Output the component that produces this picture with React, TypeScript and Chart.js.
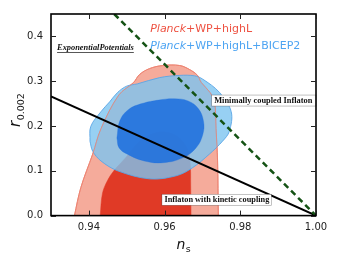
import React, { useEffect, useRef } from "react";
import { Chart, registerables } from "chart.js";

Chart.register(...registerables);

const W = 338;
const H = 259;

// Axes
const xRange = [0.93, 1.0];
const yRange = [0.0, 0.45];
const xTicks = [0.94, 0.96, 0.98, 1.0];
const yTicks = [0.0, 0.1, 0.2, 0.3, 0.4];

// Planck+WP+highL, 95% (outer) contour
const redOuterNs = [0.9358, 0.9362, 0.9379, 0.941, 0.9432, 0.9479, 0.9518, 0.9534, 0.956, 0.9595, 0.964, 0.9666, 0.9687, 0.9697, 0.972, 0.9732, 0.9736, 0.974, 0.9742, 0.9743];
const redOuterR = [-0.02, 0.0, 0.063, 0.137, 0.194, 0.269, 0.297, 0.315, 0.328, 0.335, 0.335, 0.326, 0.313, 0.297, 0.275, 0.253, 0.194, 0.122, 0.0, -0.02];

// Planck+WP+highL, 68% (inner) contour
const redInnerNs = [0.9428, 0.943, 0.9436, 0.9449, 0.9466, 0.9497, 0.9534, 0.9581, 0.9626, 0.9657, 0.9667, 0.9669, 0.967, 0.9671];
const redInnerR = [-0.02, 0.0, 0.05, 0.078, 0.1, 0.129, 0.166, 0.186, 0.181, 0.155, 0.122, 0.067, 0.0, -0.02];

// Planck+WP+highL+BICEP2, 95% contour
const blueOuterNs = [0.9403, 0.9405, 0.9432, 0.9455, 0.9476, 0.95, 0.9528, 0.9587, 0.964, 0.9679, 0.97, 0.9745, 0.9776, 0.9771, 0.9753, 0.9718, 0.9674, 0.9631, 0.9561, 0.9476, 0.9432, 0.941];
const blueOuterR = [0.166, 0.199, 0.232, 0.254, 0.275, 0.289, 0.294, 0.308, 0.313, 0.312, 0.305, 0.275, 0.232, 0.188, 0.166, 0.137, 0.107, 0.089, 0.082, 0.1, 0.122, 0.144];

// Planck+WP+highL+BICEP2, 68% contour
const blueInnerNs = [0.9474, 0.9482, 0.9505, 0.954, 0.9585, 0.9626, 0.9662, 0.9689, 0.9703, 0.9701, 0.9683, 0.9648, 0.9596, 0.9546, 0.9502, 0.948];
const blueInnerR = [0.173, 0.212, 0.237, 0.25, 0.258, 0.261, 0.256, 0.239, 0.21, 0.181, 0.151, 0.129, 0.118, 0.122, 0.137, 0.151];

// Model predictions
const kineticNs = [0.93, 1.0];
const kineticR = [0.266, 0.0];
const minimalNs = [0.9467, 1.0];
const minimalR = [0.45, 0.0];

// Text annotations (anchor in data coordinates)
const legendAnchor = { ns: 0.9562, r1: 0.4164, r2: 0.379 };
const titleAnchor = { ns: 0.9316, r: 0.374 };
const minimalAnchor = { ns: 0.97245, r: 0.2568 };
const kineticAnchor = { ns: 0.9593, r: 0.0353 };

const pts = (xs: number[], ys: number[]) => xs.map((x, i) => ({ x, y: ys[i] }));
const loop = (xs: number[], ys: number[]) => {
  const p = pts(xs, ys);
  return [...p, p[0]];
};

const shapeFillPlugin = {
  id: "shapeFill",
  beforeDatasetDraw(chart: any, args: any) {
    const ds = chart.data.datasets[args.index];
    if (!ds.shapeFill) return;
    const meta = args.meta;
    const line = meta.dataset;
    if (!line) return;
    const ctx = chart.ctx;
    const a = chart.chartArea;
    line.updateControlPoints(a, meta.indexAxis || "x");
    ctx.save();
    ctx.beginPath();
    ctx.rect(a.left, a.top, a.right - a.left, a.bottom - a.top);
    ctx.clip();
    ctx.beginPath();
    line.path(ctx);
    ctx.closePath();
    ctx.fillStyle = ds.shapeFill;
    ctx.fill();
    ctx.restore();
  },
};

const runs = (ctx: CanvasRenderingContext2D, parts: [string, string, string][], x: number, y: number) => {
  let cx = x;
  for (const [t, font, color] of parts) {
    ctx.font = font;
    ctx.fillStyle = color;
    ctx.fillText(t, cx, y);
    cx += ctx.measureText(t).width;
  }
  return cx - x;
};

const decorPlugin = {
  id: "decor",
  afterDraw(chart: any) {
    const ctx: CanvasRenderingContext2D = chart.ctx;
    const xs = chart.scales.x;
    const ys = chart.scales.y;
    const X = (v: number) => xs.getPixelForValue(v);
    const Y = (v: number) => ys.getPixelForValue(v);
    const a = chart.chartArea;
    ctx.save();
    ctx.textBaseline = "middle";
    ctx.textAlign = "left";

    // legend-like labels
    const red = "#ee5242";
    const blue = "#4da4f2";
    const it = "italic 11px 'DejaVu Sans'";
    const nm = "11px 'DejaVu Sans'";
    runs(ctx, [["Planck", it, red], ["+WP+highL", nm, red]], X(legendAnchor.ns), Y(legendAnchor.r1));
    runs(ctx, [["Planck", it, blue], ["+WP+highL+BICEP2", nm, blue]], X(legendAnchor.ns), Y(legendAnchor.r2));

    // title
    ctx.font = "italic bold 8.4px 'Liberation Serif'";
    ctx.fillStyle = "#111";
    const tx = X(titleAnchor.ns);
    const ty = Y(titleAnchor.r);
    ctx.fillText("ExponentialPotentials", tx, ty);
    const tw = ctx.measureText("ExponentialPotentials").width;
    ctx.fillRect(tx, ty + 4, tw, 0.7);

    // boxed labels
    const boxLabel = (text: string, ns: number, r: number, size: number, boxW: number) => {
      const bx = X(ns);
      const by = Y(r);
      ctx.fillStyle = "#fff";
      ctx.fillRect(bx, by - 5.5, boxW, 11);
      ctx.strokeStyle = "rgba(0,0,0,0.4)";
      ctx.lineWidth = 0.6;
      ctx.strokeRect(bx, by - 5.5, boxW, 11);
      ctx.font = `bold ${size}px 'Liberation Serif'`;
      ctx.fillStyle = "#111";
      ctx.fillText(text, bx + 2.5, by + 0.5);
    };
    boxLabel("Minimally coupled Inflaton", minimalAnchor.ns, minimalAnchor.r, 8.4, a.right - X(minimalAnchor.ns));
    boxLabel("Inflaton with kinetic coupling", kineticAnchor.ns, kineticAnchor.r, 8.3, 109.4);

    // axis titles
    ctx.textBaseline = "alphabetic";
    ctx.fillStyle = "#111";
    ctx.save();
    ctx.translate(20, 127);
    ctx.rotate(-Math.PI / 2);
    ctx.font = "italic 15px 'DejaVu Sans'";
    ctx.fillText("r", 0, 0);
    const rw = ctx.measureText("r").width;
    ctx.font = "9.5px 'DejaVu Sans'";
    ctx.fillText("0.002", rw + 0.5, 3.5);
    ctx.restore();

    ctx.font = "italic 14px 'DejaVu Sans'";
    ctx.fillText("n", 176.5, 248.5);
    const nw = ctx.measureText("n").width;
    ctx.font = "9.5px 'DejaVu Sans'";
    ctx.fillText("s", 176.5 + nw + 0.5, 251.5);

    // frame and inward ticks
    ctx.strokeStyle = "#000";
    ctx.lineWidth = 1.6;
    ctx.strokeRect(a.left, a.top, a.right - a.left, a.bottom - a.top);
    ctx.lineWidth = 1;
    ctx.strokeStyle = "#222";
    const tl = 5;
    ctx.beginPath();
    for (const v of xTicks) {
      const px = Math.round(X(v)) + 0.5;
      ctx.moveTo(px, a.bottom);
      ctx.lineTo(px, a.bottom - tl);
      ctx.moveTo(px, a.top);
      ctx.lineTo(px, a.top + tl);
    }
    for (const v of yTicks) {
      const py = Math.round(Y(v)) + 0.5;
      ctx.moveTo(a.left, py);
      ctx.lineTo(a.left + tl, py);
      ctx.moveTo(a.right, py);
      ctx.lineTo(a.right - tl, py);
    }
    ctx.stroke();
    ctx.restore();
  },
};

export default function App() {
  const ref = useRef<HTMLCanvasElement>(null);

  useEffect(() => {
    if (!ref.current) return;
    const chart = new Chart(ref.current, {
      type: "line",
      data: {
        datasets: [
          {
            data: loop(redOuterNs, redOuterR),
            shapeFill: "#f5ab9b",
            borderColor: "#ef8a78",
            borderWidth: 1,
            tension: 0.35,
            fill: false,
            pointRadius: 0,
            order: 10,
          } as any,
          {
            data: loop(redInnerNs, redInnerR),
            shapeFill: "#e03a26",
            borderColor: "#e03a26",
            borderWidth: 0.5,
            tension: 0.35,
            fill: false,
            pointRadius: 0,
            order: 9,
          } as any,
          {
            data: loop(blueOuterNs, blueOuterR),
            shapeFill: "rgba(125,196,240,0.8)",
            borderColor: "rgba(90,165,230,0.9)",
            borderWidth: 1,
            tension: 0.35,
            fill: false,
            pointRadius: 0,
            order: 8,
          } as any,
          {
            data: loop(redOuterNs, redOuterR),
            borderColor: "rgba(236,130,112,0.8)",
            borderWidth: 1,
            tension: 0.35,
            fill: false,
            pointRadius: 0,
            order: 7,
          } as any,
          {
            data: loop(blueInnerNs, blueInnerR),
            shapeFill: "rgba(30,112,222,0.88)",
            borderColor: "rgba(30,112,222,0.6)",
            borderWidth: 0.5,
            tension: 0.4,
            fill: false,
            pointRadius: 0,
            order: 6,
          } as any,
          {
            data: pts(kineticNs, kineticR),
            borderColor: "#000",
            borderWidth: 2,
            tension: 0,
            fill: false,
            pointRadius: 0,
            order: 2,
          } as any,
          {
            data: pts(minimalNs, minimalR),
            borderColor: "#145214",
            borderWidth: 2.5,
            borderDash: [6, 4],
            tension: 0,
            fill: false,
            pointRadius: 0,
            order: 1,
          } as any,
        ],
      },
      options: {
        animation: false,
        responsive: false,
        maintainAspectRatio: false,
        layout: { padding: { top: 10, right: 22, left: 0, bottom: 0 } },
        plugins: { legend: { display: false }, tooltip: { enabled: false } },
        scales: {
          x: {
            type: "linear",
            min: xRange[0],
            max: xRange[1],
            grid: { display: false, drawTicks: false },
            border: { display: false },
            afterBuildTicks: (s: any) => {
              s.ticks = xTicks.map((v) => ({ value: v }));
            },
            afterFit: (s: any) => {
              s.height = 43.4;
            },
            ticks: {
              padding: 6,
              color: "#222",
              font: { family: "'DejaVu Sans'", size: 10 },
              maxRotation: 0,
              autoSkip: false,
              callback: (v: any) => Number(v).toFixed(2),
            },
          },
          y: {
            type: "linear",
            min: yRange[0],
            max: yRange[1],
            grid: { display: false, drawTicks: false },
            border: { display: false },
            afterBuildTicks: (s: any) => {
              s.ticks = yTicks.map((v) => ({ value: v }));
            },
            afterFit: (s: any) => {
              s.width = 51;
            },
            ticks: {
              padding: 8,
              color: "#222",
              font: { family: "'DejaVu Sans'", size: 10 },
              autoSkip: false,
              callback: (v: any) => Number(v).toFixed(1),
            },
          },
        },
      } as any,
      plugins: [shapeFillPlugin, decorPlugin],
    });
    return () => chart.destroy();
  }, []);

  return (
    <div style={{ position: "fixed", left: 0, top: 0, width: W, height: H, background: "#fff" }}>
      <canvas ref={ref} width={W} height={H} style={{ width: W, height: H, display: "block" }} />
    </div>
  );
}
